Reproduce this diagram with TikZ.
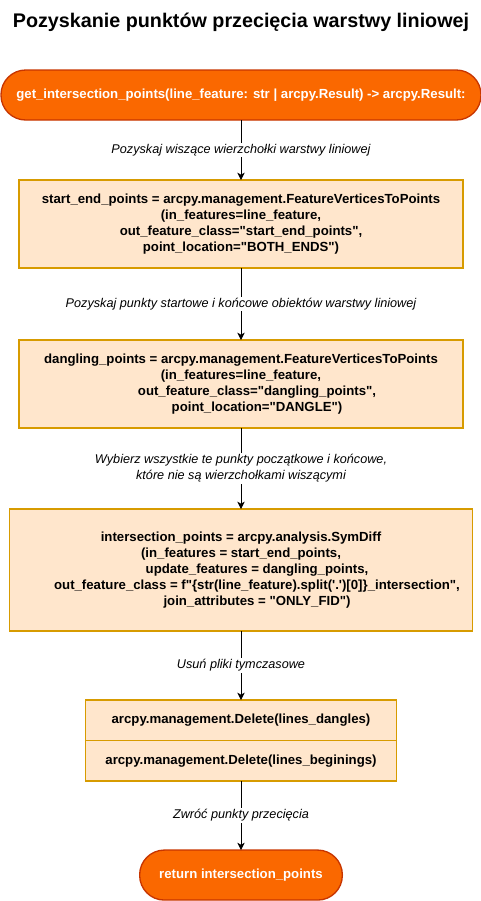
\documentclass[tikz,border=0pt]{standalone}
\usepackage{fontspec}
\setmainfont{Liberation Sans}[Ligatures=TeXOff]
\usetikzlibrary{arrows.meta,positioning}
\definecolor{termfill}{HTML}{FA6800}
\definecolor{termline}{HTML}{C73500}
\definecolor{boxfill}{HTML}{FFE6CC}
\definecolor{boxline}{HTML}{D79B00}

\begin{document}
\begin{tikzpicture}[x=0.75pt, y=-0.75pt,
        terminal/.style = {draw=termline, fill=termfill, line width=1pt, rounded corners=18.5pt,
            text=white, font=\fontsize{9.9}{12}\selectfont\bfseries, inner sep=0pt, outer sep=0pt, align=center},
        stepbox/.style = {draw=boxline, fill=boxfill, line width=1.1pt, outer sep=0pt,
            font=\fontsize{9.9}{12}\selectfont\bfseries, inner sep=2pt, align=center},
        steplabel/.style = {fill=white, font=\fontsize{9.5}{12}\selectfont\itshape, inner sep=1pt, align=center},
        flow/.style = {-{Stealth[length=5.5pt,width=5.5pt,inset=1.5pt]}, line width=0.75pt}]
    \useasboundingbox (0,0) rectangle (481,901);
    \node [font=\fontsize{14.8}{16}\selectfont\bfseries] (title) at (241,22) {Pozyskanie punktów przecięcia warstwy liniowej};
    \node [terminal, minimum width=360pt, minimum height=37.5pt] (start) at (241,95)
        {get\_intersection\_points(line\_feature: str | arcpy.Result) -> arcpy.Result:};
    \node [stepbox, minimum width=333pt, minimum height=66pt, below=45pt of start] (ends)
        {start\_end\_points = arcpy.management.FeatureVerticesToPoints\\
         (in\_features=line\_feature,\\
         out\_feature\_class="start\_end\_points",\\
         point\_location="BOTH\_ENDS")};
    \node [stepbox, minimum width=333pt, minimum height=66pt, below=54pt of ends] (dangles)
        {dangling\_points = arcpy.management.FeatureVerticesToPoints\\
         (in\_features=line\_feature,\\
         \hspace*{24pt}out\_feature\_class="dangling\_points",\\
         \hspace*{24pt}point\_location="DANGLE")};
    \node [stepbox, minimum width=347pt, minimum height=91.5pt, below=60.75pt of dangles] (inter)
        {intersection\_points = arcpy.analysis.SymDiff\\
         (in\_features = start\_end\_points,\\
         \hspace*{24pt}update\_features = dangling\_points,\\
         \hspace*{24pt}out\_feature\_class = f"\{str(line\_feature).split('.')[0]\}\_intersection",\\
         \hspace*{24pt}join\_attributes = "ONLY\_FID")};
    \node [stepbox, minimum width=233pt, minimum height=30.4pt, below=51.75pt of inter] (delA)
        {arcpy.management.Delete(lines\_dangles)};
    \node [stepbox, minimum width=233pt, minimum height=30.4pt, below=0pt of delA] (delB)
        {arcpy.management.Delete(lines\_beginings)};
    \node [terminal, minimum width=152pt, minimum height=37.5pt, below=51.75pt of delB] (stop)
        {return intersection\_points};
    % connectors
    \draw [flow] (start) -- (ends) node [steplabel, midway] {Pozyskaj wiszące wierzchołki warstwy liniowej};
    \draw [flow] (ends) -- (dangles) node [steplabel, midway] {Pozyskaj punkty startowe i końcowe obiektów warstwy liniowej};
    \draw [flow] (dangles) -- (inter) node [steplabel, midway] {Wybierz wszystkie te punkty początkowe i końcowe,\\które nie są wierzchołkami wiszącymi};
    \draw [flow] (inter) -- (delA) node [steplabel, midway] {Usuń pliki tymczasowe};
    \draw [flow] (delB) -- (stop) node [steplabel, midway] {Zwróć punkty przecięcia};
\end{tikzpicture}
\end{document}
